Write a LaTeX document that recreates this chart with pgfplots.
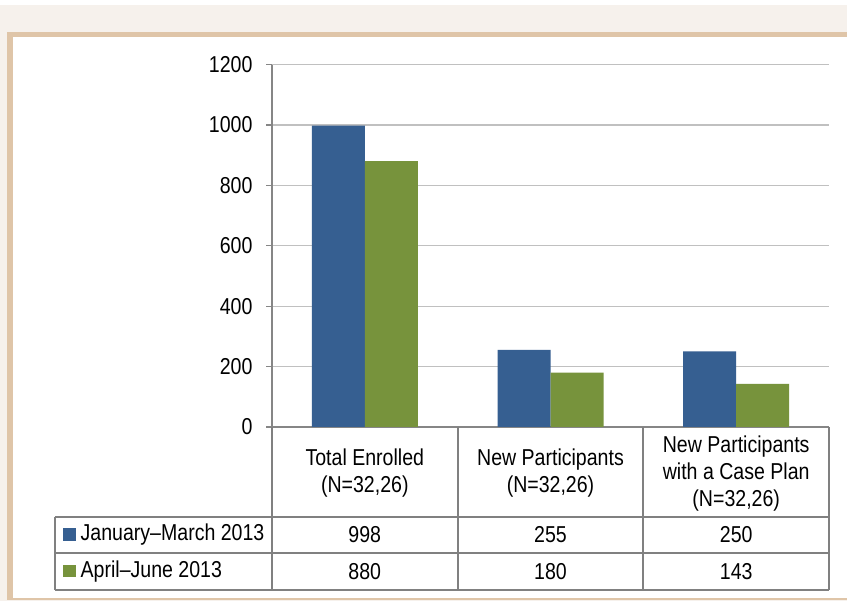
\documentclass[border=0pt]{standalone}
\usepackage{fontspec}
\setmainfont{Liberation Sans}[FakeStretch=0.85]
\usepackage{pgfplots}
\pgfplotsset{compat=1.18}
\definecolor{bblue}{HTML}{365F91}
\definecolor{bgreen}{HTML}{77933C}
\definecolor{pagec}{HTML}{F6F1EC}
\definecolor{framec}{HTML}{DFC5A8}
\definecolor{gridc}{HTML}{C0C0C0}
\definecolor{axc}{HTML}{868686}
\definecolor{tabc}{HTML}{808080}
\newcommand{\tf}{\fontsize{23bp}{27bp}\selectfont}
\begin{document}
\begin{tikzpicture}[x=1bp,y=1bp]
\fill[pagec] (0,0) rectangle (847,596);
\fill[white] (0,596) rectangle (847,601);
\fill[framec] (7,1) rectangle (847,569);
\fill[white] (12.5,2.5) rectangle (847,563.5);
\begin{axis}[
  at={(272bp,174bp)}, anchor=south west,
  scale only axis, width=557bp, height=362.4bp,
  xmin=0, xmax=3, ymin=0, ymax=1200,
  ytick={0,200,400,600,800,1000,1200},
  xtick=\empty,
  axis y line*=left, axis x line*=bottom,
  axis line style={axc, line width=1.5bp, -},
  ymajorgrids, grid style={gridc, line width=1.3bp},
  tick style={axc, line width=1.3bp},
  major tick length=6bp, tick align=outside,
  /pgf/number format/assume math mode=true,
  /pgf/number format/1000 sep={},
  yticklabel style={font=\tf, xshift=-10bp},
  clip=false,
]
\addplot[ybar, bar width=53bp, bar shift=-26.5bp, fill=bblue, draw=none]
  coordinates {(0.5,998) (1.5,255) (2.5,250)};
\addplot[ybar, bar width=53bp, bar shift=26.5bp, fill=bgreen, draw=none]
  coordinates {(0.5,880) (1.5,180) (2.5,143)};
\end{axis}
% data table below the chart
\begin{scope}[tabc, line width=2bp]
\draw (55,84) -- (829,84);
\draw (55,48) -- (829,48);
\draw (55,11) -- (829,11);
\draw (55,84) -- (55,11);
\draw (272,174) -- (272,11);
\draw (457.7,174) -- (457.7,11);
\draw (643.3,174) -- (643.3,11);
\draw (829,174) -- (829,11);
\end{scope}
\begin{scope}[every node/.style={font=\tf, align=center, inner sep=0pt}]
\node at (364.8,128) {Total Enrolled\\(N=32,26)};
\node at (550.5,128) {New Participants\\(N=32,26)};
\node at (736.2,127) {New Participants\\with a Case Plan\\(N=32,26)};
\node at (364.8,66) {998};
\node at (550.5,66) {255};
\node at (736.2,66) {250};
\node at (364.8,29.5) {880};
\node at (550.5,29.5) {180};
\node at (736.2,29.5) {143};
\node[anchor=west] at (80.5,66) {January–March 2013};
\node[anchor=west] at (80.5,29.5) {April–June 2013};
\end{scope}
\fill[bblue] (63,60) rectangle (75.5,72.5);
\fill[bgreen] (63,23.5) rectangle (75.5,36);
\end{tikzpicture}
\end{document}
